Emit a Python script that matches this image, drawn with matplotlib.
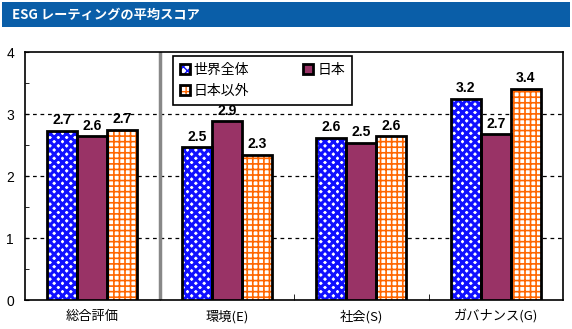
import matplotlib
matplotlib.use("Agg")
import matplotlib.pyplot as plt
from matplotlib.patches import Rectangle, Patch
from matplotlib.legend_handler import HandlerTuple
import numpy as np

plt.rcParams['font.family'] = ['Noto Sans CJK JP', 'DejaVu Sans']

title = "ESG レーティングの平均スコア"
categories = ["総合評価", "環境(E)", "社会(S)", "ガバナンス(G)"]
series_names = ["世界全体", "日本", "日本以外"]
world = [2.73, 2.46, 2.62, 3.24]
japan = [2.64, 2.88, 2.54, 2.67]
non_japan = [2.74, 2.34, 2.64, 3.40]
yticks = [0, 1, 2, 3, 4]

W, H = 572, 329
fig = plt.figure(figsize=(W / 100, H / 100), dpi=100)
fig.patch.set_facecolor("white")

# title bar
fig.patches.append(Rectangle((2 / W, 1 - 27 / H), 568 / W, 25 / H,
                             transform=fig.transFigure, facecolor="#0a5ea8",
                             edgecolor="none", zorder=0))
fig.text(12 / W, 1 - 15 / H, title, color="white", fontsize=9.5,
         fontweight="bold", va="center", ha="left")

ax = fig.add_axes([25 / W, (H - 300) / H, 538 / W, 248 / H])
x = np.arange(len(categories))
bw = 0.223

styles = [
    dict(face="white", hatch="xxxx", hcolor="#1010ff", hlw=2.2),
    dict(face="#993366", hatch=None, hcolor="#993366", hlw=1.0),
    dict(face="white", hatch="+++", hcolor="#ff6600", hlw=1.2),
]
data = [world, japan, non_japan]
handles = []
for i, (vals, st) in enumerate(zip(data, styles)):
    pos = x + (i - 1) * bw
    with plt.rc_context({'hatch.linewidth': st["hlw"]}):
        ax.bar(pos, vals, bw, color=st["face"], hatch=st["hatch"],
               edgecolor=st["hcolor"], linewidth=0, zorder=3)
        h_fill = Patch(facecolor=st["face"], hatch=st["hatch"],
                       edgecolor=st["hcolor"], linewidth=0)
    ax.bar(pos, vals, bw, fill=False, edgecolor="black", linewidth=2, zorder=4)
    for p, v in zip(pos, vals):
        ax.text(p, v + 0.06, f"{v:.1f}", ha="center", va="bottom",
                fontsize=10, fontweight="bold", family="Liberation Sans", zorder=5)
    h_edge = Patch(fill=False, edgecolor="black", linewidth=2)
    handles.append((h_fill, h_edge))

ax.set_xlim(-0.5, 3.5)
ax.set_ylim(0, 4)
ax.set_yticks(yticks)
ax.set_yticks(np.arange(0.5, 4, 1), minor=True)
ax.set_yticklabels([str(t) for t in yticks], fontsize=10, family="Liberation Sans")
ax.tick_params(axis="y", which="both", direction="in", length=3, pad=8)
ax.set_xticks(x)
ax.set_xticklabels(categories, fontsize=9.5)
ax.set_xticks(np.arange(0.5, 3.5, 1), minor=True)
ax.tick_params(axis="x", which="major", length=0, pad=7)
ax.tick_params(axis="x", which="minor", direction="in", length=4)
for t in [1, 2, 3]:
    ax.axhline(t, color="black", linestyle=(0, (3, 3)), linewidth=0.9, zorder=1)
ax.axvline(0.5, color="#888888", linewidth=2.5, zorder=2)
for s in ax.spines.values():
    s.set_linewidth(1.2)

order = [0, 2, 1]
leg = ax.legend([handles[i] for i in order], [series_names[i] for i in order],
                handler_map={tuple: HandlerTuple(ndivide=1, pad=0)},
                ncol=2, loc="upper left", bbox_to_anchor=(0.275, 0.984),
                borderaxespad=0, fancybox=False, edgecolor="black",
                fontsize=10, handlelength=0.7, handleheight=0.7,
                columnspacing=3.9, handletextpad=0.3, framealpha=1,
                borderpad=0.5, labelspacing=0.5)
leg.get_frame().set_linewidth(1.2)
leg.set_zorder(10)

fig.savefig("out.png", dpi=100)
